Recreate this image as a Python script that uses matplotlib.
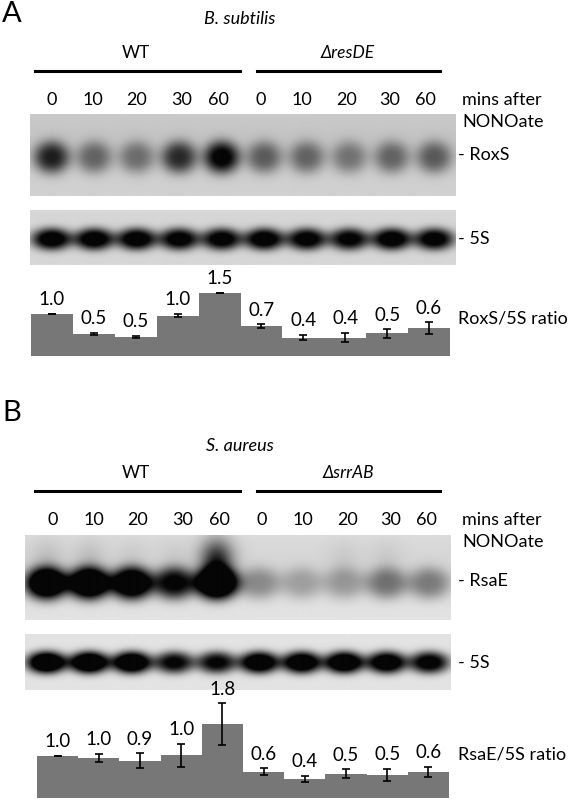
import numpy as np
import matplotlib
matplotlib.use("Agg")
import matplotlib.pyplot as plt

plt.rcParams['font.family'] = ['Lato', 'DejaVu Sans']

# ---------------- data ----------------
lanes = 10
time_labels = ['0', '10', '20', '30', '60', '0', '10', '20', '30', '60']

# Panel A (B. subtilis)
A_title = 'B. subtilis'
A_groups = ['WT', 'ΔresDE']
A_target = 'RoxS'
A_ratio = [1.00, 0.52, 0.46, 0.96, 1.50, 0.71, 0.44, 0.44, 0.54, 0.66]
A_err = [0.01, 0.03, 0.02, 0.04, 0.01, 0.05, 0.07, 0.11, 0.10, 0.14]
A_labels = ['1.0', '0.5', '0.5', '1.0', '1.5', '0.7', '0.4', '0.4', '0.5', '0.6']
A_band_target = [0.88, 0.52, 0.47, 0.82, 1.10, 0.56, 0.52, 0.44, 0.52, 0.57]
A_band_5S = [1.20, 1.20, 1.20, 1.15, 1.15, 1.20, 1.15, 1.10, 1.20, 1.15]

# Panel B (S. aureus)
B_title = 'S. aureus'
B_groups = ['WT', 'ΔsrrAB']
B_target = 'RsaE'
B_ratio = [1.00, 0.95, 0.89, 1.02, 1.76, 0.63, 0.45, 0.58, 0.55, 0.62]
B_err = [0.01, 0.10, 0.18, 0.27, 0.50, 0.08, 0.075, 0.10, 0.15, 0.13]
B_labels = ['1.0', '1.0', '0.9', '1.0', '1.8', '0.6', '0.4', '0.5', '0.5', '0.6']
B_band_target = [1.60, 1.60, 1.50, 1.05, 1.70, 0.38, 0.28, 0.30, 0.48, 0.45]
B_smear_target = [0.12, 0.12, 0.06, 0.06, 0.85, 0.0, 0.0, 0.06, 0.06, 0.0]
B_band_5S = [1.50, 1.50, 1.45, 1.05, 1.05, 1.35, 1.35, 1.40, 1.30, 1.15]

# ---------------- layout helpers ----------------
W, H = 571, 800
fig = plt.figure(figsize=(W / 100, H / 100), dpi=100)
fig.patch.set_facecolor('white')


def rect(x0, y0, x1, y1):
    return [x0 / W, 1 - y1 / H, (x1 - x0) / W, (y1 - y0) / H]


def T(x, y, s, **kw):
    kw.setdefault('fontsize', 13)
    kw.setdefault('va', 'center')
    kw.setdefault('ha', 'left')
    fig.text(x / W, 1 - y / H, s, **kw)


def hline(x0, x1, y):
    fig.add_artist(plt.Line2D([x0 / W, x1 / W], [1 - y / H, 1 - y / H],
                              color='black', lw=2.2, transform=fig.transFigure))


def blot(box, intens, bg, wx, wy, yc, smear=None, top_bg=0.0):
    x0, y0, x1, y1 = box
    npx_w, npx_h = int(x1 - x0), int(y1 - y0)
    xs = np.linspace(-0.5, lanes - 0.5, npx_w)
    ys = np.arange(npx_h)
    X, Y = np.meshgrid(xs, ys)
    dark = np.zeros_like(X)
    for i, v in enumerate(intens):
        dx = (X - i) / wx
        dy = (Y - yc * npx_h) / wy
        dark += v * np.exp(-(dx ** 2 + dy ** 2) ** 1.4)
        if smear is not None and smear[i] > 0:
            dys = (Y - (yc * npx_h - wy * 1.4)) / (wy * 1.3)
            dark += smear[i] * np.exp(-((dx * 1.3) ** 2 + dys ** 2))
    base = bg - top_bg * np.exp(-((Y - 0.3 * npx_h) / (0.4 * npx_h)) ** 2)
    img = np.clip(base * (1 - np.clip(dark, 0, 1)) + 0.02, 0, 1)
    ax = fig.add_axes(rect(*box))
    ax.imshow(img, cmap='gray', vmin=0, vmax=1, aspect='auto',
              extent=(-0.5, lanes - 0.5, npx_h, 0), interpolation='bilinear')
    ax.set_axis_off()
    return ax


def bars(box_x, baseline, ymax, vals, errs, labels):
    x0, x1 = box_x
    top = baseline - ymax * 42
    ax = fig.add_axes(rect(x0, top, x1, baseline))
    ax.patch.set_visible(False)
    pos = np.arange(len(vals))
    ax.bar(pos, vals, width=1.0, color='#777777', edgecolor='none')
    ax.errorbar(pos, vals, yerr=errs, fmt='none', ecolor='black',
                elinewidth=1.2, capsize=3.0, capthick=1.2)
    for p, v, e, lab in zip(pos, vals, errs, labels):
        ax.annotate(lab, (p, v + e), xytext=(0, 4), textcoords='offset points',
                    ha='center', va='bottom', fontsize=13.5)
    ax.set_xlim(-0.5, len(vals) - 0.5)
    ax.set_ylim(0, ymax)
    ax.set_axis_off()
    return ax


def panel(letter, ly, title, ty, groups, target, yoff, lane_x,
          blot1, blot2, b1, b2, bar_x, baseline, ymax,
          vals, errs, labels, bg1, bg2, ry, smear=None):
    T(2, ly, letter, fontsize=21)
    T(240, ty, title, ha='center', fontstyle='italic', fontsize=13)
    T(136, yoff + 53, groups[0], ha='center', fontsize=12.5)
    T(348, yoff + 53, groups[1], ha='center', fontstyle='italic', fontsize=12.5)
    hline(35, 240, yoff + 71)
    hline(257, 440, yoff + 71)
    for x, s in zip(lane_x, time_labels):
        T(x, yoff + 100, s, ha='center', fontsize=13)
    T(462, yoff + 100, 'mins after', fontsize=13)
    T(462, yoff + 122, 'NONOate', fontsize=13)
    blot(blot1, b1[0], bg1, b1[1], b1[2], b1[3], smear=smear, top_bg=0.05)
    blot(blot2, b2[0], bg2, b2[1], b2[2], b2[3])
    T(458, (blot1[1] + blot1[3]) / 2 + b1[4], '- ' + target, fontsize=13)
    T(458, (blot2[1] + blot2[3]) / 2 + 1, '- 5S', fontsize=13)
    bars(bar_x, baseline, ymax, vals, errs, labels)
    T(458, ry, target + '/5S ratio', fontsize=13)


lane_x = [52, 93, 137, 182, 218, 261, 302, 347, 390, 425]

panel('A', 14, A_title, 19, A_groups, A_target, 0, lane_x,
      (30, 114, 455, 196), (30, 210, 455, 265),
      (A_band_target, 0.42, 16, 0.52, 0), (A_band_5S, 0.47, 11, 0.52),
      (31, 450), 356, 2.0, A_ratio, A_err, A_labels, 0.80, 0.82, 318)

panel('B', 413, B_title, 446, B_groups, B_target, 420, [x + 1 for x in lane_x],
      (25, 535, 450, 620), (25, 634, 450, 690),
      (B_band_target, 0.50, 16, 0.56, 4), (B_band_5S, 0.47, 11, 0.50),
      (37, 449), 798, 2.5, B_ratio, B_err, B_labels, 0.87, 0.87, 755,
      smear=B_smear_target)

fig.savefig('out.png', dpi=100, facecolor='white')
